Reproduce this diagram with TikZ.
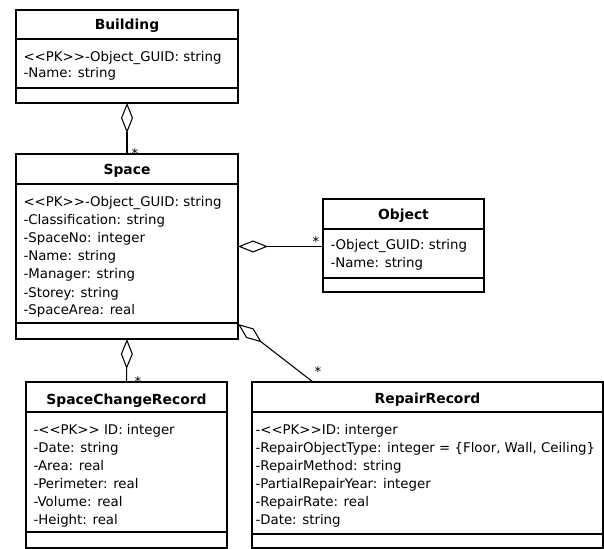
\documentclass[tikz,border=0pt]{standalone}
\usepackage{fontspec}
\setmainfont{DejaVu Sans}[Ligatures=TeXOff]
\usetikzlibrary{arrows.meta}
\begin{document}
\begin{tikzpicture}[x=0.75pt,y=-0.75pt, line width=0.8pt,
  umlbox/.style={draw, inner sep=0pt, outer sep=0pt, anchor=north west},
  attr/.style={anchor=base west, inner sep=0pt, font=\fontsize{10}{12}\selectfont},
  ttl/.style={anchor=base, inner sep=0pt, font=\fontsize{10.4}{12}\selectfont\bfseries},
  mult/.style={anchor=base, inner sep=0pt, font=\fontsize{10}{12}\selectfont},
  agg/.style={{Diamond[open,length=22.5pt,width=9pt]}-}]
\useasboundingbox (0,0) rectangle (604,549);

% Building
\node[umlbox, minimum width=222*0.75pt, minimum height=93*0.75pt] (building) at (16,10) {};
\node[ttl] (buildingT) at (127,30) {Building};
\draw (16,39) -- (238,39);
\draw (16,88) -- (238,88);
\node[attr] (b1) at (23,62) {<<PK>>-Object\_GUID: string};
\node[attr] (b2) at (23,78) {-Name: string};

% Space
\node[umlbox, minimum width=222*0.75pt, minimum height=185*0.75pt] (space) at (16,154) {};
\node[ttl] (spaceT) at (127,175) {Space};
\draw (16,184) -- (238,184);
\draw (16,323) -- (238,323);
\node[attr] (s1) at (23,207) {<<PK>>-Object\_GUID: string};
\node[attr] (s2) at (23,225) {-Classification: string};
\node[attr] (s3) at (23,243) {-SpaceNo: integer};
\node[attr] (s4) at (23,261) {-Name: string};
\node[attr] (s5) at (23,279) {-Manager: string};
\node[attr] (s6) at (23,297) {-Storey: string};
\node[attr] (s7) at (23,315) {-SpaceArea: real};

% Object
\node[umlbox, minimum width=161*0.75pt, minimum height=93*0.75pt] (object) at (323,199) {};
\node[ttl] (objectT) at (403.5,220) {Object};
\draw (323,229) -- (484,229);
\draw (323,278) -- (484,278);
\node[attr] (o1) at (330,250) {-Object\_GUID: string};
\node[attr] (o2) at (330,268) {-Name: string};

% SpaceChangeRecord
\node[umlbox, minimum width=201*0.75pt, minimum height=166*0.75pt] (scr) at (26,382) {};
\node[ttl] (scrT) at (126.5,404) {SpaceChangeRecord};
\draw (26,412) -- (227,412);
\draw (26,532) -- (227,532);
\node[attr] (c1) at (33,434) {-<<PK>> ID: integer};
\node[attr] (c2) at (33,452) {-Date: string};
\node[attr] (c3) at (33,470) {-Area: real};
\node[attr] (c4) at (33,488) {-Perimeter: real};
\node[attr] (c5) at (33,506) {-Volume: real};
\node[attr] (c6) at (33,524) {-Height: real};

% RepairRecord
\node[umlbox, minimum width=351*0.75pt, minimum height=166*0.75pt] (rr) at (252,382) {};
\node[ttl] (rrT) at (427.5,403) {RepairRecord};
\draw (252,412) -- (603,412);
\draw (252,534) -- (603,534);
\node[attr] (r1) at (255,434) {-<<PK>>ID: interger};
\node[attr] (r2) at (255,452) {-RepairObjectType: integer = \{Floor, Wall, Ceiling\}};
\node[attr] (r3) at (255,470) {-RepairMethod: string};
\node[attr] (r4) at (255,488) {-PartialRepairYear: integer};
\node[attr] (r5) at (255,506) {-RepairRate: real};
\node[attr] (r6) at (255,524) {-Date: string};

% connectors
\draw[agg] (building.south) -- (space.north);
\draw[agg] (space.east) -- (space.east -| object.west);
\draw[agg] (space.south) -- (scr.north);
\draw[agg] ([yshift=15*0.75pt]space.south east) -- ([xshift=61*0.75pt]rr.north west);

% multiplicities
\node[mult] (m1) at (135,159) {*};
\node[mult] (m2) at (316,247) {*};
\node[mult] (m3) at (138,386) {*};
\node[mult] (m4) at (318,377) {*};
\end{tikzpicture}
\end{document}
